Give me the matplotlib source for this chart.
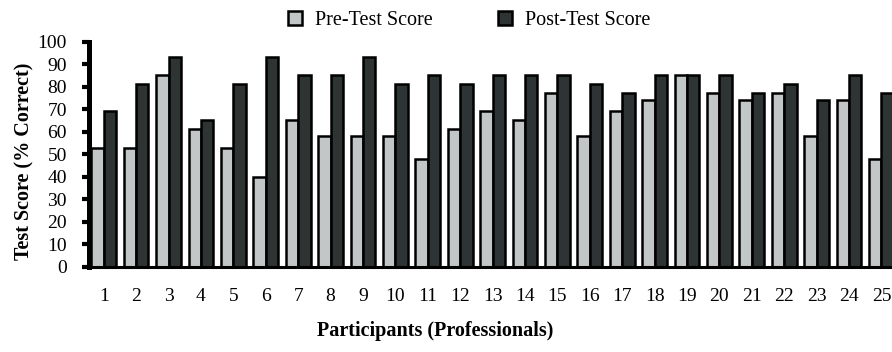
import matplotlib
matplotlib.use("Agg")
import matplotlib.pyplot as plt
import numpy as np

participants = [str(i) for i in range(1, 26)]
pre_scores = [53, 53, 85, 61, 53, 40, 65, 58, 58, 58, 48, 61, 69,
              65, 77, 58, 69, 74, 85, 77, 74, 77, 58, 74, 48]
post_scores = [69, 81, 93, 65, 81, 93, 85, 85, 93, 81, 85, 81, 85,
               85, 85, 81, 77, 85, 85, 85, 77, 81, 74, 85, 77]
y_ticks = list(range(0, 101, 10))

PRE_COLOR = "#c2c6c6"
POST_COLOR = "#2e3333"

plt.rcParams['font.family'] = ['Liberation Serif', 'DejaVu Serif']

fig = plt.figure(figsize=(8.92, 3.52), dpi=100)
ax = fig.add_axes([0.1, 0.2415, 0.9063, 0.6405])

x = np.arange(1, len(participants) + 1)
w = 0.38
ax.bar(x - w / 2, pre_scores, w, color=PRE_COLOR, edgecolor="black",
       linewidth=1.8, label="Pre-Test Score", zorder=3)
ax.bar(x + w / 2, post_scores, w, color=POST_COLOR, edgecolor="black",
       linewidth=1.8, label="Post-Test Score", zorder=3)

ax.set_xlim(0.55, len(participants) + 0.5)
ax.set_ylim(0, 100)
ax.set_yticks(y_ticks)
ax.set_xticks(x)
ax.set_xticklabels(participants)

for side in ["top", "right"]:
    ax.spines[side].set_visible(False)
ax.spines["left"].set_linewidth(3.6)
ax.spines["bottom"].set_linewidth(2.2)
ax.spines["bottom"].set_zorder(4)

ax.tick_params(axis="y", length=5, width=3, labelsize=14, pad=11)
ax.tick_params(axis="x", length=0, labelsize=14, pad=15)

ax.set_ylabel("Test Score (% Correct)", fontsize=14.5, fontweight="bold")
ax.yaxis.set_label_coords(-0.068, 0.47)
ax.set_xlabel("Participants (Professionals)", fontsize=14.5, fontweight="bold")
ax.xaxis.set_label_coords(0.428, -0.24)

fig.legend(loc="center", bbox_to_anchor=(0.526, 0.943), ncol=2, frameon=False,
           fontsize=14.5, handlelength=0.7, handleheight=0.7,
           handletextpad=0.65, columnspacing=3.2)

fig.savefig("out.png", dpi=100)
